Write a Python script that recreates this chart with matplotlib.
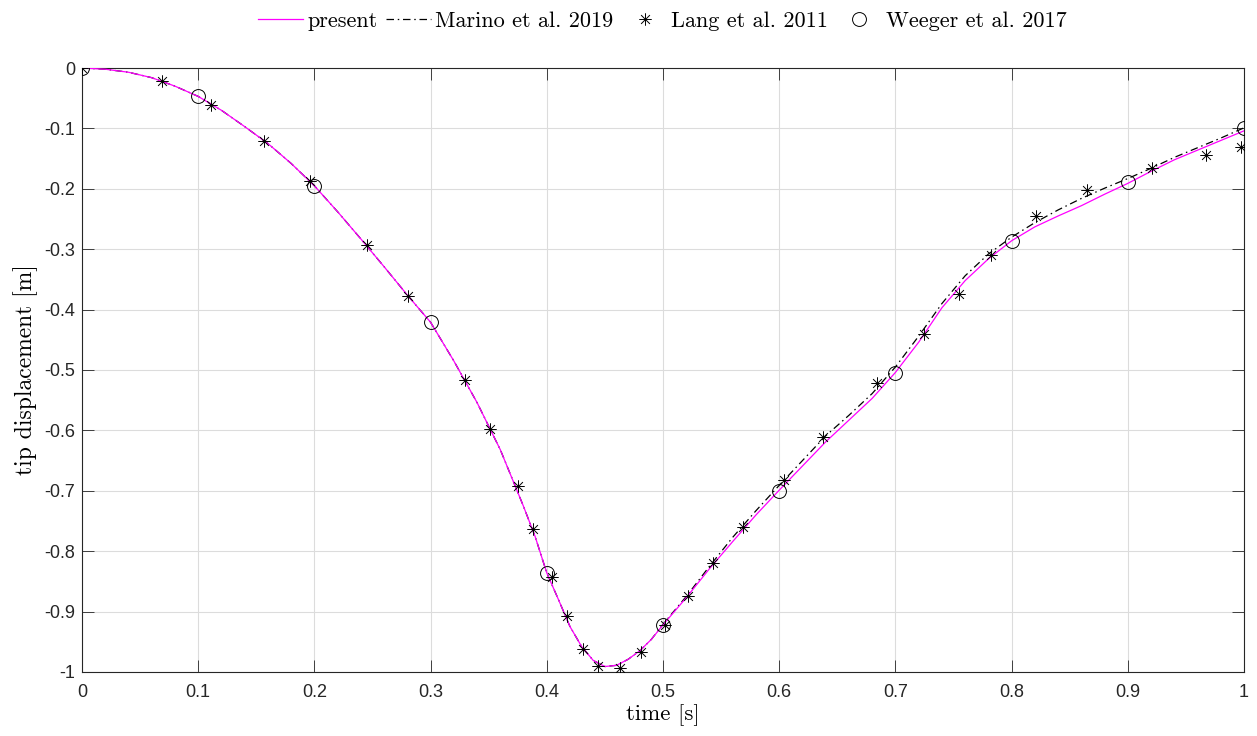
import matplotlib
matplotlib.use('Agg')
import matplotlib.pyplot as plt
from matplotlib.path import Path

plt.rcParams['axes.unicode_minus'] = False

# present solution (magenta line)
t_present = [0.00, 0.02, 0.04, 0.06, 0.08, 0.10, 0.12, 0.14, 0.16, 0.18,
             0.20, 0.22, 0.24, 0.26, 0.28, 0.30, 0.32, 0.34, 0.36, 0.38,
             0.39, 0.40, 0.41, 0.42, 0.43, 0.44, 0.45, 0.46, 0.47, 0.48,
             0.49, 0.50, 0.52, 0.54, 0.56, 0.58, 0.60, 0.62, 0.64, 0.66,
             0.68, 0.70, 0.72, 0.74, 0.76, 0.78, 0.80, 0.82, 0.84, 0.86,
             0.88, 0.90, 0.92, 0.94, 0.96, 0.98, 1.00]
u_present = [0.000, -0.002, -0.007, -0.016, -0.030, -0.047, -0.070, -0.097, -0.125, -0.158,
             -0.195, -0.238, -0.283, -0.329, -0.376, -0.421, -0.485, -0.554, -0.632, -0.726,
             -0.776, -0.836, -0.880, -0.925, -0.958, -0.981, -0.991, -0.989, -0.979, -0.965,
             -0.946, -0.922, -0.877, -0.829, -0.784, -0.740, -0.699, -0.659, -0.619, -0.583,
             -0.547, -0.504, -0.454, -0.397, -0.352, -0.316, -0.286, -0.263, -0.245, -0.228,
             -0.209, -0.191, -0.171, -0.152, -0.136, -0.120, -0.104]

# Marino et al. 2019 (dash-dot)
t_marino = t_present
u_marino = [0.000, -0.002, -0.007, -0.016, -0.030, -0.047, -0.070, -0.097, -0.125, -0.158,
            -0.195, -0.238, -0.283, -0.329, -0.376, -0.421, -0.485, -0.554, -0.632, -0.726,
            -0.776, -0.836, -0.880, -0.925, -0.958, -0.981, -0.991, -0.989, -0.979, -0.965,
            -0.946, -0.921, -0.875, -0.825, -0.777, -0.733, -0.691, -0.650, -0.609, -0.575,
            -0.539, -0.495, -0.444, -0.390, -0.344, -0.308, -0.280, -0.256, -0.235, -0.216,
            -0.199, -0.183, -0.166, -0.148, -0.132, -0.116, -0.099]

# Lang et al. 2011 (asterisks)
t_lang = [0.0, 0.0688, 0.111, 0.1566, 0.196, 0.245, 0.2806, 0.3296, 0.351, 0.375,
          0.388, 0.4045, 0.417, 0.431, 0.444, 0.463, 0.481, 0.502, 0.5215, 0.543,
          0.569, 0.604, 0.638, 0.684, 0.7246, 0.7547, 0.782, 0.821, 0.865, 0.921,
          0.967, 0.9974]
u_lang = [0.0, -0.0215, -0.061, -0.121, -0.187, -0.293, -0.378, -0.516, -0.598, -0.692,
          -0.763, -0.843, -0.907, -0.962, -0.990, -0.993, -0.967, -0.922, -0.874, -0.820,
          -0.760, -0.682, -0.611, -0.522, -0.440, -0.374, -0.310, -0.245, -0.202, -0.166,
          -0.144, -0.131]

# Weeger et al. 2017 (circles)
t_weeger = [0.0, 0.1, 0.2, 0.3, 0.4, 0.5, 0.6, 0.7, 0.8, 0.9, 1.0]
u_weeger = [0.0, -0.046, -0.195, -0.421, -0.836, -0.922, -0.700, -0.505, -0.286, -0.188, -0.100]

xticks = [0, 0.1, 0.2, 0.3, 0.4, 0.5, 0.6, 0.7, 0.8, 0.9, 1]
yticks = [0, -0.1, -0.2, -0.3, -0.4, -0.5, -0.6, -0.7, -0.8, -0.9, -1]

# MATLAB-like asterisk: plus and cross
M, L = Path.MOVETO, Path.LINETO
d = 0.7071
star = Path([(-1, 0), (1, 0), (0, -1), (0, 1), (-d, -d), (d, d), (-d, d), (d, -d)],
            [M, L, M, L, M, L, M, L])

fig = plt.figure(figsize=(12.57, 7.36), dpi=100)
ax = fig.add_axes([0.0652, 0.0870, 0.9245, 0.8206])

ax.plot(t_present, u_present, color='#ff00ff', linewidth=0.9, label='present', zorder=3)
ax.plot(t_marino, u_marino, color='black', linewidth=0.9, dashes=[6, 3, 1.2, 3],
        label='Marino et al. 2019', zorder=2)
ax.plot(t_lang, u_lang, linestyle='none', marker=star, markersize=9, color='black',
        markeredgewidth=0.7, label='Lang et al. 2011', zorder=4)
ax.plot(t_weeger, u_weeger, linestyle='none', marker='o', markersize=10,
        markerfacecolor='none', markeredgecolor='black', markeredgewidth=0.7,
        label='Weeger et al. 2017', zorder=4)

ax.set_xlim(0, 1)
ax.set_ylim(-1, 0)
ax.set_xticks(xticks)
ax.set_yticks(yticks)
ax.set_xticklabels(['%g' % v for v in xticks], fontfamily='Liberation Sans', fontsize=13)
ax.set_yticklabels(['%g' % v for v in yticks], fontfamily='Liberation Sans', fontsize=13)
ax.tick_params(direction='in', length=8.5, width=0.6, top=True, right=True,
               colors='#262626', labelcolor='#262626', pad=5)
ax.tick_params(axis='x', pad=9)
for s in ax.spines.values():
    s.set_color('#262626')
    s.set_linewidth(0.8)
ax.grid(True, color='#dcdcdc', linewidth=0.8)
ax.set_axisbelow(True)

ax.set_xlabel('time [s]', fontfamily='cmr10', fontsize=16.5, labelpad=2)
ax.set_ylabel('tip displacement [m]', fontfamily='cmr10', fontsize=17, labelpad=4)

fig.legend(loc='upper center', bbox_to_anchor=(0.527, 1.012), ncol=4, frameon=False,
           prop={'family': 'cmr10', 'size': 16}, handlelength=2.0, handletextpad=0.2,
           columnspacing=0.4)

fig.savefig('out.png', dpi=100)
